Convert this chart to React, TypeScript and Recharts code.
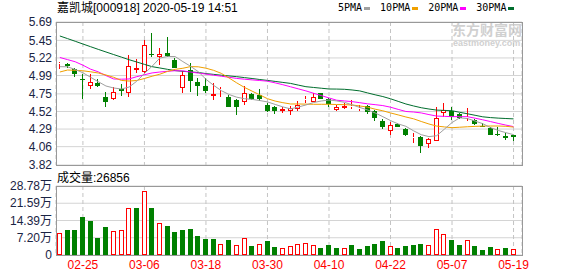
import { ComposedChart, Bar, Line, XAxis, YAxis, CartesianGrid } from 'recharts';

const dates = [
  '02-20', '02-21', '02-24', '02-25', '02-26', '02-27', '02-28',
  '03-02', '03-03', '03-04', '03-05', '03-06', '03-09', '03-10', '03-11', '03-12', '03-13',
  '03-16', '03-17', '03-18', '03-19', '03-20', '03-23', '03-24', '03-25', '03-26', '03-27',
  '03-30', '03-31', '04-01', '04-02', '04-03', '04-07', '04-08', '04-09', '04-10',
  '04-13', '04-14', '04-15', '04-16', '04-17', '04-20', '04-21', '04-22', '04-23', '04-24',
  '04-27', '04-28', '04-29', '04-30', '05-06', '05-07', '05-08', '05-11', '05-12', '05-13',
  '05-14', '05-15', '05-18', '05-19',
];

const opens = [
  5.14, 5.145, 5.07, 4.944, 4.857, 4.896, 4.709, 4.678, 4.818, 4.757,
  5.066, 5.031, 5.271, 5.232, 5.28, 5.193, 4.822, 5.062, 4.909, 4.853,
  4.726, 4.8, 4.709, 4.67, 4.648, 4.748, 4.731, 4.604, 4.582, 4.53,
  4.53, 4.552, 4.665, 4.648, 4.757, 4.683, 4.534, 4.56, 4.574, 4.547,
  4.591, 4.526, 4.399, 4.26, 4.356, 4.29, 4.168, 4.19, 4.09, 4.138,
  4.5, 4.526, 4.486, 4.438, 4.408, 4.33, 4.303, 4.22, 4.199, 4.212,
];
const highs = [
  5.17, 5.16, 5.085, 5.005, 5.005, 4.94, 4.774, 4.844, 4.874, 5.258,
  5.202, 5.455, 5.546, 5.345, 5.49, 5.223, 5.053, 5.158, 4.962, 4.953,
  4.888, 4.844, 4.735, 4.678, 4.853, 4.757, 4.809, 4.626, 4.591, 4.582,
  4.595, 4.656, 4.722, 4.765, 4.765, 4.7, 4.608, 4.626, 4.669, 4.604,
  4.6, 4.539, 4.417, 4.386, 4.364, 4.299, 4.233, 4.199, 4.168, 4.574,
  4.626, 4.574, 4.504, 4.565, 4.425, 4.364, 4.312, 4.312, 4.233, 4.216,
];
const lows = [
  5.07, 5.09, 4.975, 4.687, 4.813, 4.844, 4.578, 4.675, 4.722, 4.713,
  5.018, 5.018, 5.228, 5.127, 5.236, 5.084, 4.765, 4.779, 4.726, 4.765,
  4.67, 4.713, 4.574, 4.478, 4.604, 4.67, 4.661, 4.517, 4.486, 4.495,
  4.478, 4.53, 4.626, 4.639, 4.678, 4.582, 4.53, 4.556, 4.547, 4.53,
  4.486, 4.399, 4.294, 4.216, 4.312, 4.199, 4.111, 3.98, 4.046, 4.138,
  4.452, 4.408, 4.425, 4.39, 4.338, 4.312, 4.21, 4.203, 4.146, 4.129,
];
const closes = [
  5.16, 5.12, 5.005, 4.931, 4.905, 4.853, 4.643, 4.774, 4.787, 5.11,
  5.084, 5.385, 5.254, 5.271, 5.245, 5.093, 4.997, 4.922, 4.857, 4.787,
  4.748, 4.818, 4.58, 4.582, 4.757, 4.678, 4.678, 4.53, 4.521, 4.547,
  4.569, 4.604, 4.678, 4.709, 4.687, 4.617, 4.574, 4.595, 4.591, 4.565,
  4.512, 4.439, 4.316, 4.338, 4.321, 4.212, 4.181, 4.068, 4.155, 4.43,
  4.534, 4.452, 4.434, 4.452, 4.36, 4.316, 4.21, 4.212, 4.168, 4.181,
];
const volumes = [
  90500, 104300, 104300, 157200, 141800, 70900, 116800, 98800, 103000, 194800,
  196000, 265700, 196000, 132200, 121000, 95900, 104300, 108400, 79200, 66700,
  66700, 44600, 62600, 40500, 69700, 37500, 44600, 58400, 33400, 27900,
  37000, 44600, 48800, 41700, 30500, 41700, 30500, 27900, 41700, 25000,
  37500, 45900, 58400, 37500, 29200, 37500, 41700, 45900, 41700, 108400,
  86300, 62600, 41700, 62600, 37500, 20900, 32100, 23800, 29200, 26856,
];

const ma5 = [
  5.106, 5.104, 5.069, 5.026, 4.967, 4.909, 4.853, 4.827, 4.814, 4.839,
  4.915, 5.017, 5.112, 5.218, 5.239, 5.238, 5.172, 5.111, 5.041, 4.941,
  4.862, 4.792, 4.742, 4.707, 4.687, 4.678, 4.663, 4.645, 4.612, 4.58,
  4.554, 4.578, 4.605, 4.637, 4.657, 4.67, 4.658, 4.64, 4.607, 4.573,
  4.54, 4.501, 4.452, 4.401, 4.357, 4.326, 4.267, 4.216, 4.191, 4.203,
  4.288, 4.375, 4.437, 4.427, 4.395, 4.36, 4.309, 4.272, 4.243, 4.217,
];
const ma10 = [
  5.036, 5.062, 5.058, 5.052, 5.039, 5.023, 4.997, 4.967, 4.926, 4.918,
  4.925, 4.951, 4.981, 5.007, 5.044, 5.071, 5.085, 5.107, 5.104, 5.086,
  5.058, 5.018, 4.958, 4.894, 4.835, 4.786, 4.737, 4.687, 4.656, 4.635,
  4.618, 4.618, 4.616, 4.614, 4.614, 4.614, 4.611, 4.609, 4.605, 4.592,
  4.577, 4.55, 4.529, 4.501, 4.475, 4.448, 4.424, 4.389, 4.356, 4.329,
  4.318, 4.308, 4.314, 4.32, 4.325, 4.329, 4.33, 4.33, 4.326, 4.316,
];
const ma20 = [
  5.226, 5.198, 5.17, 5.125, 5.073, 5.038, 4.989, 4.945, 4.942, 4.945,
  4.975, 5.0, 5.024, 5.036, 5.045, 5.053, 5.051, 5.036, 5.022, 5.009,
  4.994, 4.981, 4.967, 4.952, 4.942, 4.933, 4.925, 4.916, 4.894, 4.87,
  4.843, 4.816, 4.789, 4.758, 4.728, 4.697, 4.667, 4.658, 4.649, 4.635,
  4.62, 4.609, 4.597, 4.576, 4.547, 4.52, 4.513, 4.501, 4.479, 4.46,
  4.456, 4.452, 4.452, 4.452, 4.432, 4.411, 4.388, 4.364, 4.342, 4.322,
];
const ma30 = [
  5.507, 5.473, 5.438, 5.402, 5.367, 5.332, 5.298, 5.264, 5.231, 5.197,
  5.167, 5.136, 5.106, 5.089, 5.071, 5.054, 5.045, 5.037, 5.03, 5.015,
  5.005, 4.994, 4.985, 4.975, 4.963, 4.951, 4.938, 4.926, 4.913, 4.9,
  4.887, 4.865, 4.844, 4.834, 4.824, 4.814, 4.813, 4.81, 4.801, 4.789,
  4.763, 4.738, 4.715, 4.686, 4.652, 4.618, 4.592, 4.569, 4.552, 4.538,
  4.534, 4.53, 4.509, 4.49, 4.47, 4.45, 4.44, 4.433, 4.428, 4.423,
];

const priceTicks = [3.82, 4.06, 4.29, 4.52, 4.75, 4.99, 5.22, 5.45, 5.69];
const volumeTicks = [0, 72000, 143900, 215900, 287800];
const dateTicks = ['02-25', '03-06', '03-18', '03-30', '04-10', '04-22', '05-07', '05-19'];

const UP = '#ff0000';
const DOWN = '#008000';
const LABEL = '#1a2444';
const FONT = "'Liberation Sans', Arial, 'Noto Sans CJK SC', sans-serif";

const rows = dates.map((date, i) => ({
  i,
  date,
  open: opens[i],
  high: highs[i],
  low: lows[i],
  close: closes[i],
  range: [lows[i], highs[i]],
  vol: volumes[i],
  rise: i === 0 || closes[i] >= closes[i - 1],
  ma5: ma5[i],
  ma10: ma10[i],
  ma20: ma20[i],
  ma30: ma30[i],
}));

const xTicks = dateTicks.map((d) => dates.indexOf(d));
const xDomain = [-0.5, 60.1];

function Candle(props: any) {
  const { x, y, width, height, payload } = props;
  if (x == null || payload == null) return null;
  const { open, close, high, low } = payload;
  const span = high - low;
  const py = (p: number) => (span > 0 ? y + ((high - p) / span) * height : y);
  const left = Math.round(x);
  const w = Math.round(width);
  const mid = left + Math.floor(w / 2) + 0.5;
  const top = Math.round(py(Math.max(open, close)));
  const bottom = Math.round(py(Math.min(open, close)));
  const yHigh = Math.round(py(high));
  const yLow = Math.round(py(low));
  if (close > open) {
    return (
      <g shapeRendering="crispEdges">
        <line x1={mid} x2={mid} y1={yHigh} y2={top} stroke={UP} />
        <line x1={mid} x2={mid} y1={bottom} y2={yLow} stroke={UP} />
        <rect x={left + 0.5} y={top + 0.5} width={w - 1} height={Math.max(bottom - top - 1, 0)} fill="#fff" stroke={UP} />
      </g>
    );
  }
  return (
    <g shapeRendering="crispEdges">
      <line x1={mid} x2={mid} y1={yHigh} y2={yLow} stroke={DOWN} />
      <rect x={left} y={top} width={w} height={Math.max(bottom - top, 1)} fill={DOWN} />
    </g>
  );
}

function VolumeBar(props: any) {
  const { x, y, width, height, payload } = props;
  if (x == null || payload == null) return null;
  const left = Math.round(x);
  const w = Math.round(width);
  const top = Math.round(y);
  const bottom = Math.round(y + height);
  if (payload.rise) {
    return (
      <rect x={left + 0.5} y={top + 0.5} width={w - 1} height={Math.max(bottom - top - 1, 0)}
        fill="#fff" stroke={UP} shapeRendering="crispEdges" />
    );
  }
  return <rect x={left} y={top} width={w} height={bottom - top} fill={DOWN} shapeRendering="crispEdges" />;
}

const legend = [
  { name: '5PMA', color: '#a0a0a0' },
  { name: '10PMA', color: '#f0a000' },
  { name: '20PMA', color: '#ff00ff' },
  { name: '30PMA', color: '#006d2d' },
];

export default function App() {
  return (
    <div style={{ position: 'absolute', left: 0, top: 0, width: 578, height: 276, fontFamily: FONT, background: '#fff' }}>
      <div style={{ position: 'absolute', left: 57, top: 1, fontSize: 12, lineHeight: '14px', color: '#000', whiteSpace: 'nowrap' }}>
        嘉凯城[000918] 2020-05-19 14:51
      </div>
      <div style={{ position: 'absolute', left: 338, top: 2, display: 'flex', alignItems: 'center',
        fontFamily: "'DejaVu Sans Mono', monospace", fontSize: 10, lineHeight: '12px', color: '#000' }}>
        {legend.map((l) => (
          <span key={l.name} style={{ display: 'flex', alignItems: 'center', marginRight: 10 }}>
            {l.name}
            <span style={{ display: 'inline-block', width: 6, height: 3, marginLeft: 2, background: l.color }} />
          </span>
        ))}
      </div>
      <div style={{ position: 'absolute', left: 452, top: 23, fontSize: 14, fontWeight: 'bold', color: '#d0d0d0', lineHeight: '15px', whiteSpace: 'nowrap' }}>
        东方财富网
      </div>
      <div style={{ position: 'absolute', left: 453, top: 39, fontSize: 9, fontWeight: 'bold', color: '#d0d0d0', lineHeight: '9px', whiteSpace: 'nowrap' }}>
        eastmoney.com
      </div>

      <div style={{ position: 'absolute', left: 0, top: 0 }}>
        <ComposedChart width={578} height={182} data={rows} margin={{ top: 22, right: 56, bottom: 17, left: 0 }}>
          <CartesianGrid vertical={false} stroke="#d4d4d4" />
          <CartesianGrid horizontal={false} stroke="#c4c4c4" strokeDasharray="4 3" />
          <XAxis type="number" dataKey="i" domain={xDomain} ticks={xTicks} allowDataOverflow hide />
          <YAxis type="number" domain={[3.82, 5.69]} ticks={priceTicks} allowDataOverflow width={56} interval={0}
            axisLine={false} tickLine={false} tickSize={0} tickMargin={4}
            tickFormatter={(v: number) => v.toFixed(2)}
            tick={{ fill: LABEL, fontSize: 12, fontFamily: FONT }} />
          <Bar dataKey="range" barSize={5} shape={<Candle />} isAnimationActive={false} />
          <Line type="linear" dataKey="ma30" stroke="#006d2d" strokeWidth={1} dot={false} isAnimationActive={false} />
          <Line type="linear" dataKey="ma20" stroke="#ff00ff" strokeWidth={1} dot={false} isAnimationActive={false} />
          <Line type="linear" dataKey="ma10" stroke="#f0a000" strokeWidth={1} dot={false} isAnimationActive={false} />
          <Line type="linear" dataKey="ma5" stroke="#a0a0a0" strokeWidth={1} dot={false} isAnimationActive={false} />
        </ComposedChart>
      </div>
      <div style={{ position: 'absolute', left: 56, top: 22, width: 467, height: 144, boxSizing: 'border-box', border: '1px solid #999', pointerEvents: 'none' }} />

      <div style={{ position: 'absolute', left: 57, top: 171, fontSize: 12, lineHeight: '14px', color: '#000', whiteSpace: 'nowrap' }}>
        成交量:{volumes[volumes.length - 1]}
      </div>

      <div style={{ position: 'absolute', left: 0, top: 170 }}>
        <ComposedChart width={578} height={106} data={rows} margin={{ top: 16, right: 56, bottom: 0, left: 0 }}>
          <CartesianGrid vertical={false} stroke="#d4d4d4" />
          <CartesianGrid horizontal={false} stroke="#c4c4c4" strokeDasharray="4 3" />
          <XAxis type="number" dataKey="i" domain={xDomain} ticks={xTicks} allowDataOverflow interval={0}
            height={21} axisLine={false} tickLine={false} tickSize={0} tickMargin={5}
            tickFormatter={(v: number) => dates[v]}
            tick={{ fill: UP, fontSize: 12, fontFamily: FONT }} />
          <YAxis type="number" domain={[0, 287800]} ticks={volumeTicks} allowDataOverflow width={56} interval={0}
            axisLine={false} tickLine={false} tickSize={0} tickMargin={4}
            tickFormatter={(v: number) => (v === 0 ? '0' : (v / 10000).toFixed(2) + '万')}
            tick={{ fill: LABEL, fontSize: 12, fontFamily: FONT }} />
          <Bar dataKey="vol" barSize={5} shape={<VolumeBar />} isAnimationActive={false} />
        </ComposedChart>
      </div>
      <div style={{ position: 'absolute', left: 56, top: 186, width: 467, height: 70, boxSizing: 'border-box', border: '1px solid #999', pointerEvents: 'none' }} />
    </div>
  );
}
